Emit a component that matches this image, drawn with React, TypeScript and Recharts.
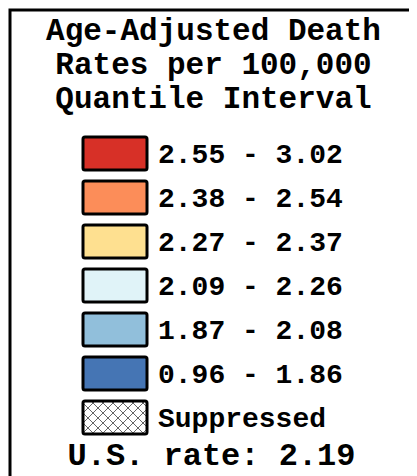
import { BarChart, Bar, Cell, XAxis, YAxis, LabelList, Customized } from 'recharts';

const TITLE_LINES = ['Age-Adjusted Death', 'Rates per 100,000', 'Quantile Interval'];
const CLASS_LABELS = ['2.55 - 3.02', '2.38 - 2.54', '2.27 - 2.37', '2.09 - 2.26', '1.87 - 2.08', '0.96 - 1.86', 'Suppressed'];
const CLASS_COLORS = ['#d73027', '#fc8d59', '#fee090', '#e0f3f8', '#91bfdb', '#4575b4', 'url(#hatch)'];
const US_RATE = 2.19;

const FONT = '"Courier New", "Liberation Mono", monospace';

const data = CLASS_LABELS.map((label, i) => ({ label, value: 1, color: CLASS_COLORS[i] }));

function Frame() {
  return (
    <g>
      <defs>
        <pattern id="hatch" width="10" height="10" patternUnits="userSpaceOnUse">
          <rect width="10" height="10" fill="#fff" />
          <path d="M0,0 L10,10 M10,0 L0,10" stroke="#666" strokeWidth={1} />
        </pattern>
      </defs>
      <rect x={2} y={2} width={500} height={500} fill="none" stroke="#000" strokeWidth={3} />
      {TITLE_LINES.map((t, i) => (
        <text
          key={t}
          x={205.5}
          y={32 + i * 34}
          textAnchor="middle"
          fontFamily={FONT}
          fontWeight="bold"
          fontSize={31}
          fill="#000"
        >
          {t}
        </text>
      ))}
      <text x={203.5} y={457} textAnchor="middle" fontFamily={FONT} fontWeight="bold" fontSize={32} fill="#000">
        {`U.S. rate: ${US_RATE.toFixed(2)}`}
      </text>
    </g>
  );
}

export default function App() {
  return (
    <BarChart
      width={409}
      height={468}
      data={data}
      layout="vertical"
      margin={{ top: 123, right: 270, bottom: 37, left: 75 }}
      barCategoryGap={0}
    >
      <XAxis type="number" domain={[0, 1]} hide />
      <YAxis type="category" dataKey="label" hide />
      <Customized component={Frame} />
      <Bar dataKey="value" barSize={33} isAnimationActive={false} stroke="#000" strokeWidth={3} radius={2}>
        {data.map((d, i) => (
          <Cell key={`cell-${i}`} fill={d.color} />
        ))}
        <LabelList
          dataKey="label"
          position="right"
          offset={11}
          fill="#000"
          fontFamily={FONT}
          fontWeight="bold"
          fontSize={28}
        />
      </Bar>
    </BarChart>
  );
}
